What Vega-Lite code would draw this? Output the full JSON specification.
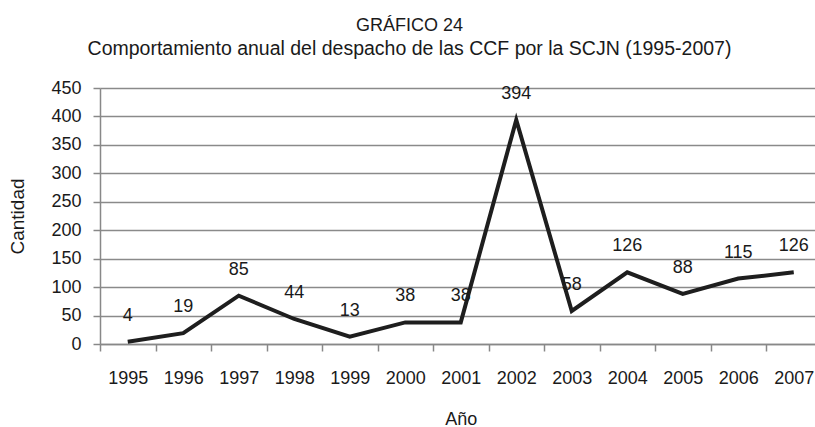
{
  "$schema": "https://vega.github.io/schema/vega-lite/v6.json",
  "width": 715,
  "height": 256,
  "autosize": {"type": "none"},
  "padding": {"left": 100, "top": 88, "right": 0, "bottom": 83},
  "background": "white",
  "title": {
    "text": "GRÁFICO 24",
    "subtitle": "Comportamiento anual del despacho de las CCF por la SCJN (1995-2007)",
    "anchor": "middle",
    "dx": -48,
    "font": "Liberation Sans",
    "fontSize": 18,
    "fontWeight": "normal",
    "color": "#1a1a1a",
    "subtitleFont": "Liberation Sans",
    "subtitleFontSize": 19.5,
    "subtitleColor": "#1a1a1a",
    "subtitlePadding": 5,
    "offset": 21
  },
  "data": {
    "values": [
      {"anio": "1995", "cantidad": 4},
      {"anio": "1996", "cantidad": 19},
      {"anio": "1997", "cantidad": 85},
      {"anio": "1998", "cantidad": 44},
      {"anio": "1999", "cantidad": 13},
      {"anio": "2000", "cantidad": 38},
      {"anio": "2001", "cantidad": 38},
      {"anio": "2002", "cantidad": 394},
      {"anio": "2003", "cantidad": 58},
      {"anio": "2004", "cantidad": 126},
      {"anio": "2005", "cantidad": 88},
      {"anio": "2006", "cantidad": 115},
      {"anio": "2007", "cantidad": 126}
    ]
  },
  "encoding": {
    "x": {
      "field": "anio",
      "type": "ordinal",
      "bandPosition": 0.5,
      "scale": {"type": "band", "range": [0, 721.5], "paddingInner": 0, "paddingOuter": 0},
      "axis": {
        "title": "Año",
        "labelAngle": 0,
        "labelFont": "Liberation Sans",
        "labelFontSize": 18,
        "labelColor": "#1a1a1a",
        "labelPadding": 18,
        "tickBand": "extent",
        "tickSize": 7,
        "tickColor": "#888888",
        "tickWidth": 1.5,
        "domainColor": "#888888",
        "domainWidth": 1.5,
        "titleFont": "Liberation Sans",
        "titleFontSize": 18,
        "titleFontWeight": "normal",
        "titleColor": "#1a1a1a",
        "titlePadding": 23,
        "grid": false
      }
    },
    "y": {
      "field": "cantidad",
      "type": "quantitative",
      "scale": {"domain": [0, 450]},
      "axis": {
        "title": "Cantidad",
        "values": [0, 50, 100, 150, 200, 250, 300, 350, 400, 450],
        "labelFont": "Liberation Sans",
        "labelFontSize": 18,
        "labelColor": "#1a1a1a",
        "labelPadding": 12,
        "tickSize": 7,
        "tickColor": "#888888",
        "tickWidth": 1.5,
        "domainColor": "#888888",
        "domainWidth": 1.5,
        "grid": true,
        "gridColor": "#8a8a8a",
        "gridWidth": 1.5,
        "titleFont": "Liberation Sans",
        "titleFontSize": 19,
        "titleFontWeight": "normal",
        "titleColor": "#1a1a1a",
        "titlePadding": 23
      }
    }
  },
  "layer": [
    {"mark": {"type": "line", "color": "#1e1e1e", "strokeWidth": 4, "strokeJoin": "miter"}},
    {
      "mark": {"type": "text", "dy": -26, "font": "Liberation Sans", "fontSize": 18, "color": "#1a1a1a", "baseline": "middle"},
      "encoding": {"text": {"field": "cantidad", "type": "quantitative"}}
    }
  ],
  "config": {"view": {"stroke": null}}
}
